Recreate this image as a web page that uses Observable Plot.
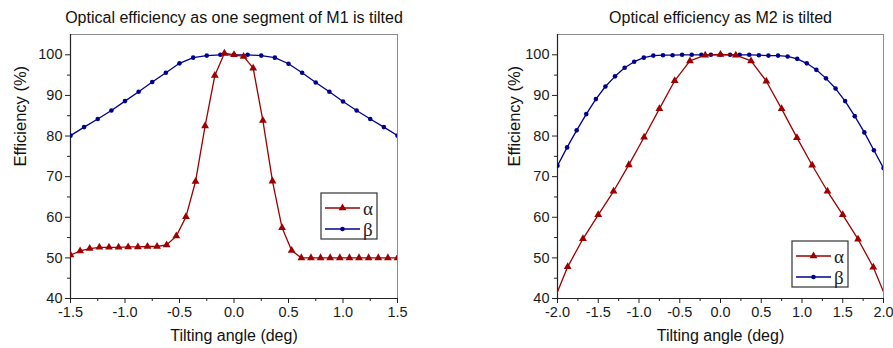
<!DOCTYPE html>
<html><head><meta charset="utf-8">
<script src="https://cdn.jsdelivr.net/npm/d3@7"></script>
<script src="https://cdn.jsdelivr.net/npm/@observablehq/plot@0.6"></script>
<style>
body{margin:0;background:#fff;}
#wrap{position:relative;width:893px;height:348px;overflow:hidden;font-family:"Liberation Sans",Arial,sans-serif;background:#fff;}
#wrap > .panel{position:absolute;top:0;}
#wrap > svg.legend{position:absolute;}
#wrap .panel g[aria-label="x-axis tick label"], #wrap .panel g[aria-label="y-axis tick label"],
#wrap .panel g[aria-label="x-axis tick label"] text, #wrap .panel g[aria-label="y-axis tick label"] text{font-size:14.5px !important;}
</style></head><body><div id="wrap"></div>
<script>
// ---------- data ----------
const seriesNames = ["α", "β"];
const seriesColors = ["#9c0000", "#000090"];

// Left panel: one segment of M1 tilted
const leftTitle = "Optical efficiency as one segment of M1 is tilted";
const leftAlphaX = [-1.5,-1.412,-1.324,-1.235,-1.147,-1.059,-0.971,-0.882,-0.794,-0.706,-0.618,-0.529,-0.441,-0.353,-0.265,-0.176,-0.088,0,0.088,0.176,0.265,0.353,0.441,0.529,0.618,0.706,0.794,0.882,0.971,1.059,1.147,1.235,1.324,1.412,1.5];
const leftAlphaY = [50.7,51.7,52.3,52.6,52.6,52.6,52.7,52.7,52.8,52.8,53.2,55.4,60.1,68.8,82.5,94.9,100.4,100.0,99.6,96.7,83.8,68.9,57.4,51.8,50.0,50.0,50.0,50.0,50.0,50.0,50.0,50.0,50.0,50.0,50.0];
const leftBetaX = [-1.5,-1.375,-1.25,-1.125,-1.0,-0.875,-0.75,-0.625,-0.5,-0.375,-0.25,-0.125,0,0.125,0.25,0.375,0.5,0.625,0.75,0.875,1.0,1.125,1.25,1.375,1.5];
const leftBetaY = [80.1,82.2,84.2,86.3,88.6,90.9,93.3,95.6,97.9,99.3,99.8,100,100,100,99.8,99.3,97.8,95.6,93.2,90.9,88.5,86.3,84.2,82.2,80.1];
const leftXDomain = [-1.5, 1.5];
const leftXTicks = [-1.5,-1.0,-0.5,0.0,0.5,1.0,1.5];
const leftXMinor = [-1.25,-0.75,-0.25,0.25,0.75,1.25];

// Right panel: M2 tilted
const rightTitle = "Optical efficiency as M2 is tilted";
const rightAlphaX = [-2.0625,-1.875,-1.6875,-1.5,-1.3125,-1.125,-0.9375,-0.75,-0.5625,-0.375,-0.1875,0,0.1875,0.375,0.5625,0.75,0.9375,1.125,1.3125,1.5,1.6875,1.875,2.0625];
const rightAlphaY = [38.6,47.8,54.7,60.6,66.4,72.9,79.7,86.7,93.6,98.5,99.9,100.1,99.9,98.5,93.5,86.7,79.6,72.8,66.4,60.6,54.6,47.7,38.6];
const rightBetaX = [-2,-1.882,-1.765,-1.647,-1.529,-1.412,-1.294,-1.176,-1.059,-0.941,-0.824,-0.706,-0.588,-0.471,-0.353,-0.235,-0.118,0,0.118,0.235,0.353,0.471,0.588,0.706,0.824,0.941,1.059,1.176,1.294,1.412,1.529,1.647,1.765,1.882,2];
const rightBetaY = [72.7,77.2,81.4,85.4,89.1,92.2,94.7,96.8,98.3,99.3,99.8,99.9,99.9,100,100,100,100,100,100,100,100,99.9,99.8,99.8,99.6,99.0,97.9,96.3,94.2,91.7,88.6,84.9,80.9,76.5,72.1];
const rightXDomain = [-2, 2];
const rightXTicks = [-2.0,-1.5,-1.0,-0.5,0.0,0.5,1.0,1.5,2.0];
const rightXMinor = [-1.75,-1.25,-0.75,-0.25,0.25,0.75,1.25,1.75];

const yDomain = [40, 105];
const yTicks = [40,50,60,70,80,90,100];
const yMinor = [45,55,65,75,85,95];
const xLabel = "Tilting angle (deg)";
const yLabel = "Efficiency (%)";

// ---------- drawing ----------
const FONT = "'Liberation Sans', Arial, sans-serif";
const zip = (xs, ys) => xs.map((x, i) => ({x, y: ys[i]}));

function panel(o) {
  const alpha = zip(o.ax, o.ay), beta = zip(o.bx, o.by);
  return Plot.plot({
    width: o.width, height: 348,
    marginLeft: o.ml, marginRight: o.mr, marginTop: 34, marginBottom: 50,
    style: {fontFamily: FONT, fontSize: "14.5px", background: "transparent", overflow: "visible", color: "#1a1a1a"},
    x: {domain: o.xDomain},
    y: {domain: yDomain},
    marks: [
      Plot.frame({stroke: "#8c8c8c", strokeWidth: 1}),
      Plot.ruleX([o.xDomain[0]], {stroke: "#222", strokeWidth: 1.2}),
      Plot.ruleY([yDomain[0]], {stroke: "#222", strokeWidth: 1.2}),
      Plot.axisX({ticks: o.xTicks, tickSize: 5, tickPadding: 3, tickFormat: d => d.toFixed(1), label: null, fontSize: 14.5, stroke: "#222"}),
      Plot.axisX({ticks: o.xMinor, tickSize: 3, tickFormat: () => "", label: null, stroke: "#222"}),
      Plot.axisY({ticks: yTicks, tickSize: 5, tickPadding: 3, tickFormat: d => String(d), label: null, fontSize: 14.5, stroke: "#222"}),
      Plot.axisY({ticks: yMinor, tickSize: 3, tickFormat: () => "", label: null, stroke: "#222"}),
      Plot.line(beta, {x: "x", y: "y", stroke: seriesColors[1], strokeWidth: 1.3, clip: true}),
      Plot.dot(beta, {x: "x", y: "y", fill: seriesColors[1], r: 2.3, symbol: "circle", clip: true}),
      Plot.line(alpha, {x: "x", y: "y", stroke: seriesColors[0], strokeWidth: 1.3, clip: true}),
      Plot.dot(alpha, {x: "x", y: "y", fill: seriesColors[0], r: 2.9, symbol: "triangle", clip: true}),
      Plot.text([o.title], {text: d => d, frameAnchor: "top", lineAnchor: "middle", dy: -17, fontSize: 16, fill: "#111"}),
      Plot.text([xLabel], {text: d => d, frameAnchor: "bottom", lineAnchor: "middle", dy: 37, fontSize: 16, fill: "#111"}),
      Plot.text([yLabel], {text: d => d, frameAnchor: "left", lineAnchor: "middle", dx: -o.ylo, rotate: -90, fontSize: 16.5, fill: "#111"})
    ]
  });
}

const wrap = document.getElementById("wrap");
const left = panel({width: 446, ml: 70, mr: 49, ylo: 50, xDomain: leftXDomain, xTicks: leftXTicks, xMinor: leftXMinor,
  ax: leftAlphaX, ay: leftAlphaY, bx: leftBetaX, by: leftBetaY, title: leftTitle});
left.classList.add("panel"); left.style.left = "0px";
wrap.appendChild(left);
const right = panel({width: 447, ml: 111, mr: 10, ylo: 43, xDomain: rightXDomain, xTicks: rightXTicks, xMinor: rightXMinor,
  ax: rightAlphaX, ay: rightAlphaY, bx: rightBetaX, by: rightBetaY, title: rightTitle});
right.classList.add("panel"); right.style.left = "446px";
wrap.appendChild(right);

function legend(x, y) {
  const w = 56, h = 46;
  const svg = d3.select(wrap).append("svg").attr("class", "legend")
    .attr("width", w + 2).attr("height", h + 2)
    .style("left", (x - 1) + "px").style("top", (y - 1) + "px");
  svg.append("rect").attr("x", 1).attr("y", 1).attr("width", w).attr("height", h)
    .attr("fill", "#fff").attr("stroke", "#333").attr("stroke-width", 1.2);
  seriesNames.forEach((name, i) => {
    const cy = 1 + 15 + i * 21;
    const g = svg.append("g");
    g.append("line").attr("x1", 5).attr("x2", 40).attr("y1", cy).attr("y2", cy)
      .attr("stroke", seriesColors[i]).attr("stroke-width", 1.3);
    const sym = i === 0 ? d3.symbolTriangle : d3.symbolCircle;
    const size = i === 0 ? Math.PI * 2.9 * 2.9 : Math.PI * 2.3 * 2.3;
    g.append("path").attr("d", d3.symbol(sym, size)()).attr("transform", `translate(22.5,${cy})`)
      .attr("fill", seriesColors[i]);
    g.append("text").attr("x", 43).attr("y", cy).attr("dy", "0.35em")
      .attr("font-family", "'Liberation Serif', 'Times New Roman', serif").attr("font-size", 19)
      .attr("fill", "#222").text(name);
  });
}
legend(321, 193);
legend(792, 241);
</script>
</body></html>
